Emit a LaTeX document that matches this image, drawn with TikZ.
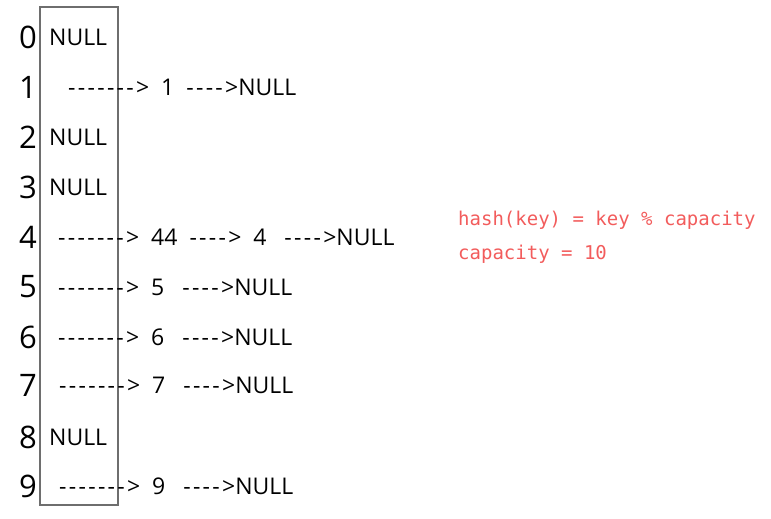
\documentclass[tikz,border=0pt]{standalone}
\usepackage{fontspec}
\setmainfont[Ligatures=TeXOff]{Open Sans}
\newfontfamily\dashfont[Ligatures=TeXOff,LetterSpace=10]{Open Sans}
\newfontfamily\notefont{DejaVu Sans Mono}
\newcommand{\dsh}[1]{{\dashfont #1}}
\definecolor{notered}{RGB}{242,92,92}
\definecolor{boxgray}{RGB}{110,110,110}
\tikzset{
  idx/.style={anchor=east,inner sep=0pt,font=\fontsize{31}{31}\selectfont},
  nullcell/.style={anchor=west,inner sep=0pt,font=\fontsize{23}{23}\selectfont},
  chain/.style={anchor=west,inner sep=0pt,font=\fontsize{23}{23}\selectfont},
  note/.style={anchor=west,inner sep=0pt,text=notered,font=\notefont\fontsize{19}{19}\selectfont}
}
\begin{document}
\begin{tikzpicture}[x=1pt,y=-1pt]
	\useasboundingbox (0,0) rectangle (771,519);
	\draw [boxgray,line width=1.2pt] (40,7) rectangle (118,505);
	% indices
	\node [idx] (i0) at (37,37) {0};
	\node [idx] (i1) at (37,87) {1};
	\node [idx] (i2) at (37,137) {2};
	\node [idx] (i3) at (37,187) {3};
	\node [idx] (i4) at (37,237) {4};
	\node [idx] (i5) at (37,287) {5};
	\node [idx] (i6) at (37,337) {6};
	\node [idx] (i7) at (37,385) {7};
	\node [idx] (i8) at (37,437) {8};
	\node [idx] (i9) at (37,486) {9};
	% empty buckets
	\node [nullcell] (n0) at (49,37) {NULL};
	\node [nullcell] (n2) at (49,137) {NULL};
	\node [nullcell] (n3) at (49,187) {NULL};
	\node [nullcell] (n8) at (49,437) {NULL};
	% chains
	\node [chain] (c1) at (68,87) {\dsh{------->}\ \ 1\ \ \dsh{---->}NULL};
	\node [chain] (c4) at (58,237) {\dsh{------->}\ \ 44\ \ \dsh{---->}\ \ 4\ \ \ \dsh{---->}NULL};
	\node [chain] (c5) at (58,287) {\dsh{------->}\ \ 5\ \ \ \dsh{---->}NULL};
	\node [chain] (c6) at (58,337) {\dsh{------->}\ \ 6\ \ \ \dsh{---->}NULL};
	\node [chain] (c7) at (59,385) {\dsh{------->}\ \ 7\ \ \ \dsh{---->}NULL};
	\node [chain] (c9) at (59,486) {\dsh{------->}\ \ 9\ \ \ \dsh{---->}NULL};
	% hash function
	\node [note] (h1) at (458,220) {hash(key) = key \% capacity};
	\node [note] (h2) at (458,254) {capacity = 10};
\end{tikzpicture}
\end{document}
